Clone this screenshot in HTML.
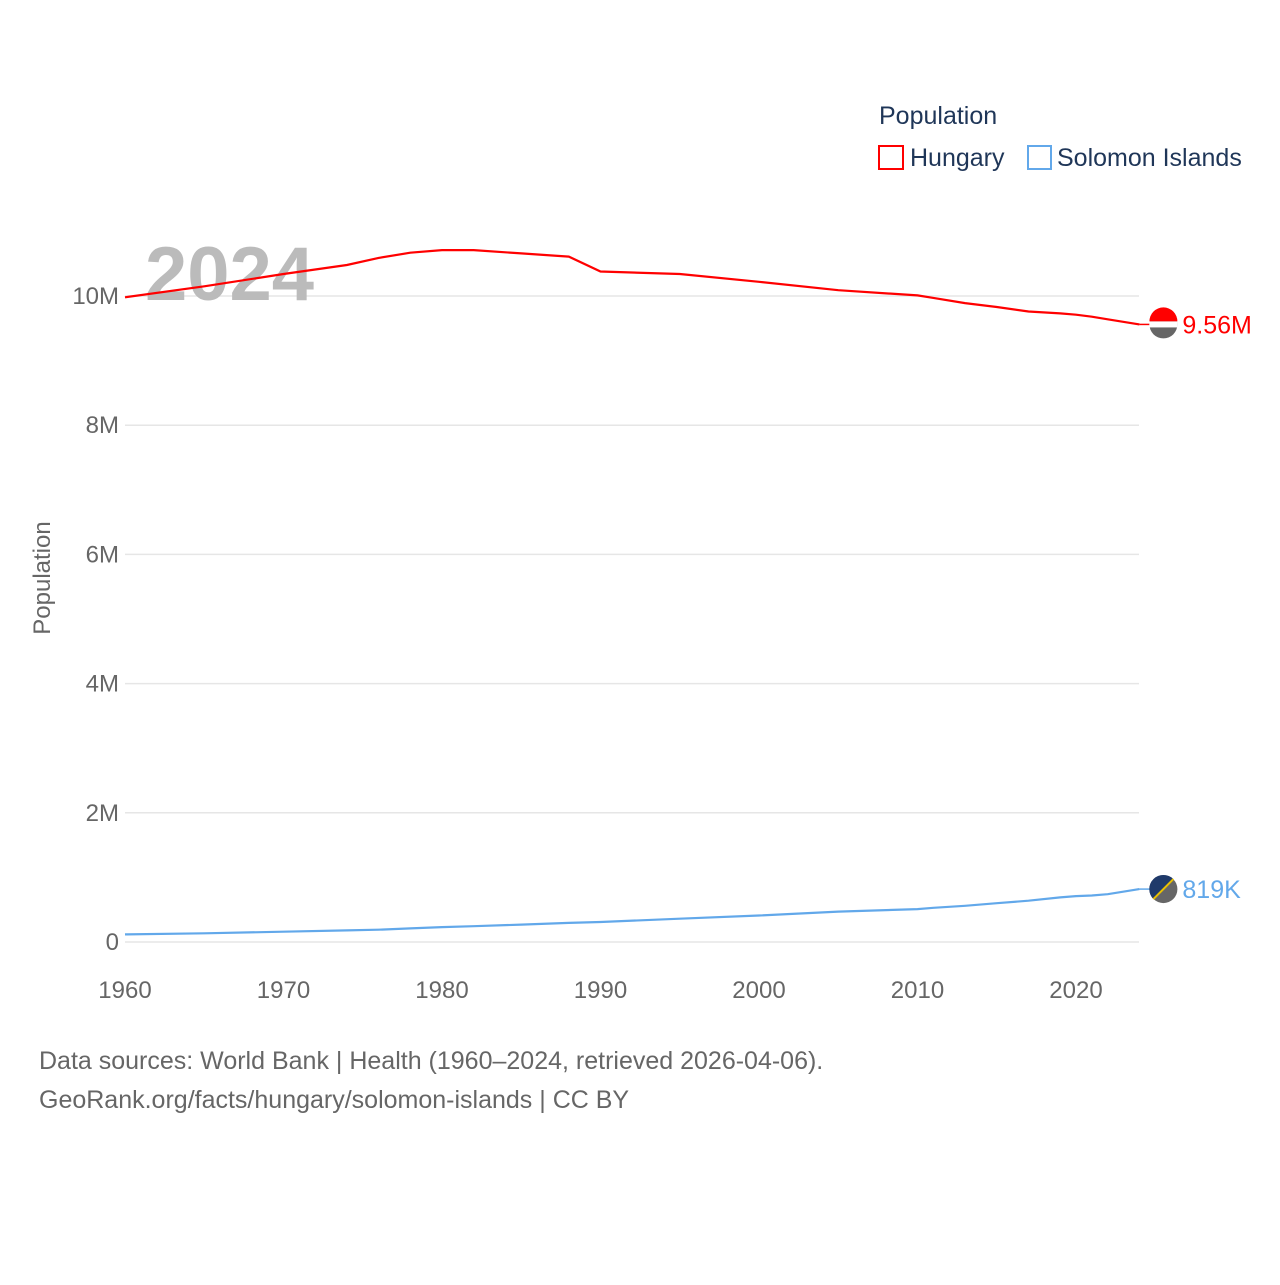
<!DOCTYPE html>
<html><head><meta charset="utf-8"><style>
body{margin:0;background:#fff;font-family:"Liberation Sans",sans-serif}
svg text{font-family:"Liberation Sans",sans-serif}
</style></head><body>
<svg width="1280" height="1280" viewBox="0 0 1280 1280">
<g id="grid"></g>
<g id="xticks"></g>
<text x="145" y="300" font-size="76" font-weight="bold" fill="#bbb">2024</text>
<text transform="translate(50,578) rotate(-90)" text-anchor="middle" font-size="24" fill="#666">Population</text>
<g id="series"></g>
<text x="879" y="124" font-size="25" fill="#1f3658">Population</text>
<rect x="879" y="146" width="24" height="23" fill="none" stroke="#f00" stroke-width="2"/>
<text x="910" y="166" font-size="25" fill="#1f3658">Hungary</text>
<rect x="1028" y="146" width="23" height="23" fill="none" stroke="#62a8ea" stroke-width="2"/>
<text x="1057" y="166" font-size="25" fill="#1f3658">Solomon Islands</text>
<text x="39" y="1069" font-size="25" fill="#666">Data sources: World Bank | Health (1960–2024, retrieved 2026-04-06).</text>
<text x="39" y="1108" font-size="25" fill="#666">GeoRank.org/facts/hungary/solomon-islands | CC BY</text>
</svg>
<script>
const years=[1960,1965,1970,1974,1976,1978,1980,1982,1985,1988,1990,1995,2000,2005,2010,2011,2013,2015,2017,2019,2020,2021,2022,2024];
const hungary=[9.98,10.15,10.34,10.48,10.59,10.67,10.71,10.71,10.66,10.61,10.38,10.34,10.22,10.09,10.01,9.97,9.89,9.83,9.76,9.73,9.71,9.68,9.64,9.56];
const solomon=[0.118,0.135,0.16,0.18,0.19,0.21,0.23,0.245,0.27,0.295,0.31,0.36,0.41,0.47,0.51,0.53,0.56,0.6,0.64,0.69,0.71,0.72,0.74,0.819];
const yTicks=[0,2,4,6,8,10];
const yTickLabels=["0","2M","4M","6M","8M","10M"];
const xTicks=[1960,1970,1980,1990,2000,2010,2020];
const X=y=>125+(y-1960)*(1076-125)/60;
const Y=v=>942-v*64.6;
const ns="http://www.w3.org/2000/svg";
function mk(t,a,p){const e=document.createElementNS(ns,t);for(const k in a)e.setAttribute(k,a[k]);p.appendChild(e);return e;}
const g=document.getElementById('grid');
yTicks.forEach((v,i)=>{
 const l=mk('line',{x1:125,x2:1139,y1:Y(v),y2:Y(v),stroke:'#e6e6e6','stroke-width':1.5},g);
 
 
 const t=mk('text',{x:119,y:Y(v)+8,'text-anchor':'end','font-size':24,fill:'#666'},g);
 t.textContent=yTickLabels[i];
 
 
});
const xg=document.getElementById('xticks');
xTicks.forEach(v=>{
 const t=mk('text',{x:X(v),y:998,'text-anchor':'middle','font-size':24,fill:'#666'},xg);
 t.textContent=v;
 
 
});
const s=document.getElementById('series');
function line(vals,col,name,lab,flagName){
 const d=vals.map((v,i)=>(i?'L':'M')+X(years[i]).toFixed(1)+','+Y(v).toFixed(1)).join('');
 const p=mk('path',{d:d,fill:'none',stroke:col,'stroke-width':2.2},s);
 
 
 const lx=X(years[years.length-1]),ly=Y(vals[vals.length-1]);
 mk('line',{x1:lx,x2:lx+10,y1:ly,y2:ly,stroke:col,'stroke-width':1.5},s);
 const c=mk('circle',{cx:lx+24,cy:ly,r:14,fill:'#666'},s);
 
 
 if(col=='#f00'){mk('path',{d:`M${lx+10},${ly-3}A14,14 0 0 1 ${lx+38},${ly-3}Z`,fill:'#f00'},s);mk('rect',{x:lx+10,y:ly-3,width:28,height:6,fill:'#fff'},s);}
 else{mk('path',{d:`M${lx+14},${ly+10}A14,14 0 0 1 ${lx+34},${ly-10}Z`,fill:'#1f3a6a'},s);mk('line',{x1:lx+14,y1:ly+10,x2:lx+34,y2:ly-10,stroke:'#e8c000','stroke-width':2},s);}
 const t=mk('text',{x:lx+43,y:ly+9,'font-size':25,fill:col},s);
 t.textContent=lab;
 
 
}
line(hungary,'#f00','hungary-line','9.56M','hungary-flag');
line(solomon,'#62a8ea','solomon-line','819K','solomon-flag');
</script>
</body></html>
